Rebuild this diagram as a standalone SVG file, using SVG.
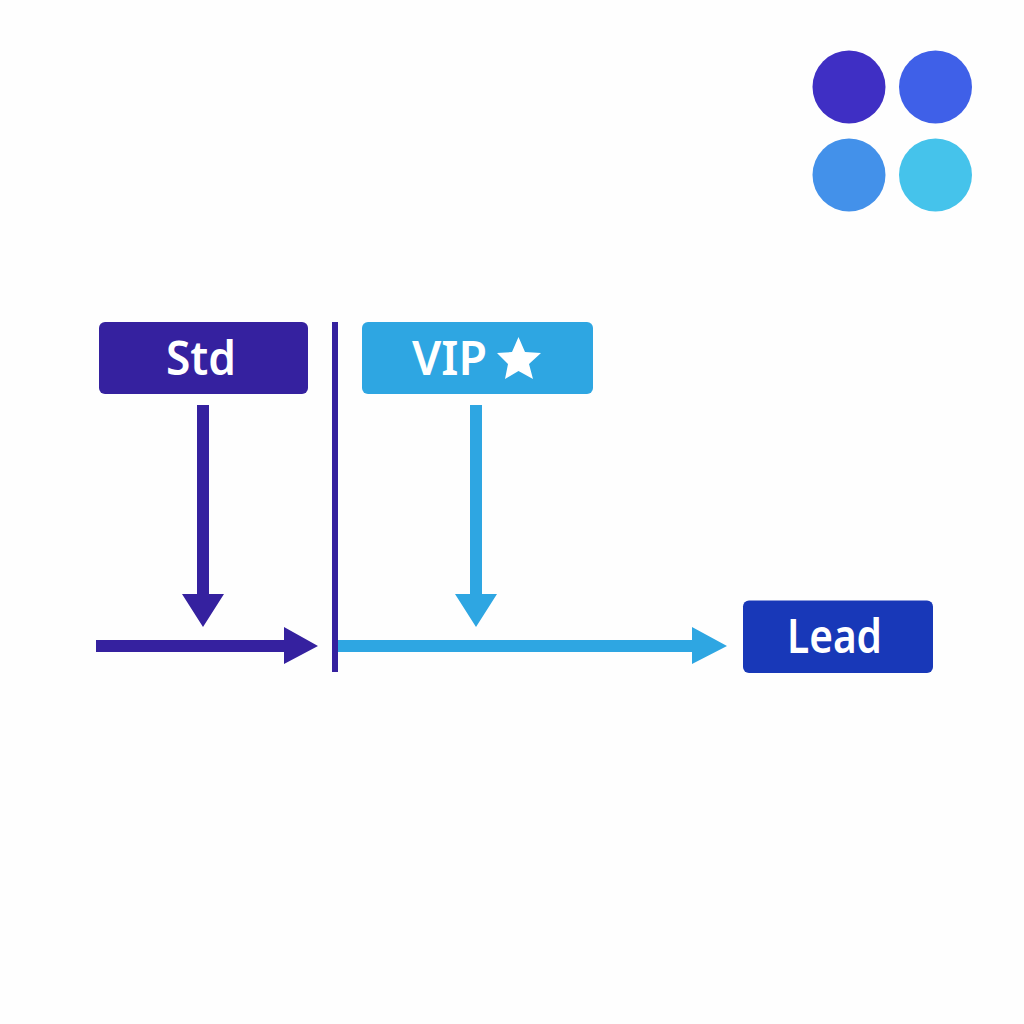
<svg xmlns="http://www.w3.org/2000/svg" width="1024" height="1024" viewBox="0 0 1024 1024">
<style>
.label{font-family:"Noto Sans","Open Sans","Liberation Sans",sans-serif;font-size:47px;font-weight:600;fill:#fff;text-anchor:middle}
.c1{fill:#35219f}.c2{fill:#2ea6e2}
</style>
<rect width="1024" height="1024" fill="#fefefe"/>
<g id="legend">
<circle cx="849" cy="87" r="36.500" fill="#3f2fc4"/>
<circle cx="935.500" cy="87" r="36.500" fill="#3f60e8"/>
<circle cx="849" cy="175" r="36.500" fill="#4391ea"/>
<circle cx="935.500" cy="175" r="36.500" fill="#45c3eb"/>
</g>
<g id="connectors">
<rect class="c1" x="332" y="322" width="6" height="350"/>
<polygon class="c1" points="197,405 209,405 209,594 224,594 203,627 182,594 197,594"/>
<polygon class="c2" points="470,405 482,405 482,594 497,594 476,627 455,594 470,594"/>
<polygon class="c1" points="96,640 284,640 284,627 318,646 284,664 284,652 96,652"/>
<polygon class="c2" points="338,640 692,640 692,627 727,646 692,664 692,652 338,652"/>
</g>
<g id="std">
<rect x="99" y="322" width="209" height="72" rx="6" class="c1"/>
<text class="label" x="201" y="375" textLength="70" lengthAdjust="spacingAndGlyphs">Std</text>
</g>
<g id="vip">
<rect x="362" y="322" width="231" height="72" rx="6" class="c2"/>
<text class="label" x="449.500" y="375" textLength="75" lengthAdjust="spacingAndGlyphs">VIP</text>
<polygon fill="#fff" points="518.500,337 525,352 541,353 529,364 533,379 518.500,371 505,379 508,364 497,353 512,352"/>
</g>
<g id="lead">
<rect x="743" y="600.500" width="190" height="72.500" rx="6" fill="#1838b8"/>
<text class="label" x="834.500" y="653" textLength="95" lengthAdjust="spacingAndGlyphs">Lead</text>
</g>
</svg>
